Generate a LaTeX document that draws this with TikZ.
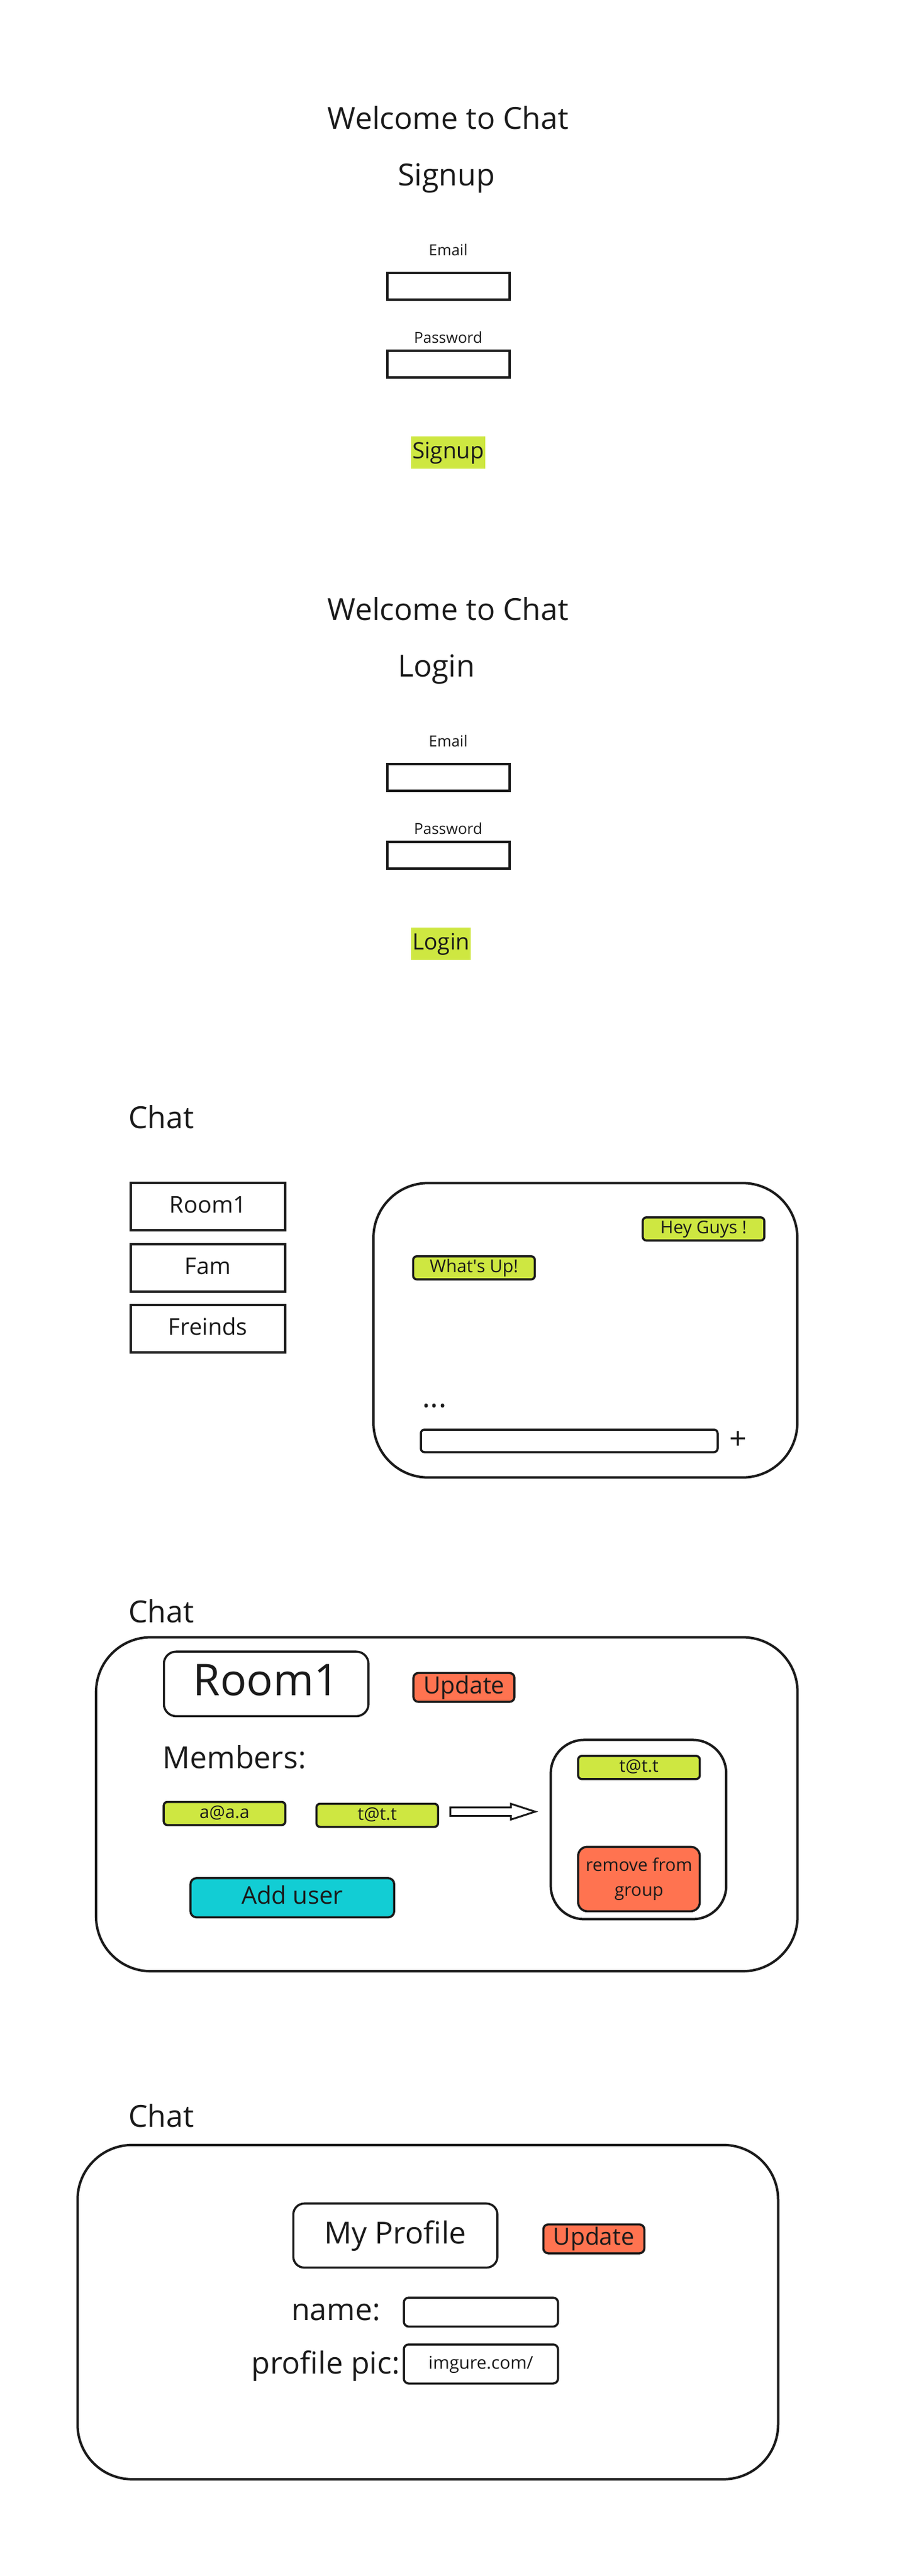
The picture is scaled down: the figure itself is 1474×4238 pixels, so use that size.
\documentclass[tikz,border=0pt]{standalone}
\usepackage{fontspec}
\setmainfont{Open Sans}
\usepackage{xcolor}
\usepackage{tikz}
\usetikzlibrary{calc}
\definecolor{ink}{HTML}{1A1A1A}
\definecolor{lime}{HTML}{CEE741}
\definecolor{coral}{HTML}{FF7350}
\definecolor{aqua}{HTML}{12CDD4}
\tikzset{
  heading/.style={text=ink, inner sep=0pt, font=\fontsize{25}{30}\selectfont},
  fieldlab/.style={text=ink, inner sep=0pt, font=\fontsize{12.5}{15}\selectfont},
  inputbox/.style={draw=ink, line width=2pt, minimum width=100.7pt, minimum height=21.85pt, inner sep=0pt},
  submit/.style={fill=lime, text=ink, inner xsep=1pt, inner ysep=0pt, minimum height=26.1pt, font=\fontsize{18.5}{22}\selectfont, text height=14.2pt, text depth=4.3pt},
  tab/.style={draw=ink, line width=2pt, minimum width=127.35pt, minimum height=39pt, inner sep=0pt, text=ink, font=\fontsize{19}{23}\selectfont, text height=14.6pt, text depth=4.4pt},
  window/.style={draw=ink, line width=2pt, rounded corners=45pt, inner sep=0pt},
  bubble/.style={draw=ink, fill=lime, line width=1.75pt, rounded corners=3pt, minimum width=100pt, minimum height=19pt, inner sep=0pt, text=ink, font=\fontsize{14.5}{17}\selectfont, text height=11.2pt, text depth=3.3pt},
  msgbar/.style={draw=ink, line width=1.75pt, rounded corners=3pt, minimum width=244pt, minimum height=18.5pt, inner sep=0pt},
  plain/.style={text=ink, inner sep=0pt},
  titlebox/.style={draw=ink, line width=1.75pt, inner sep=0pt, text=ink},
  updatebtn/.style={draw=ink, fill=coral, line width=1.75pt, rounded corners=4pt, minimum width=83pt, minimum height=23.7pt, inner sep=0pt, text=ink, font=\fontsize{19.5}{23}\selectfont, text height=15pt, text depth=4.5pt},
  addbtn/.style={draw=ink, fill=aqua, line width=1.75pt, rounded corners=5pt, minimum width=167.5pt, minimum height=32.25pt, inner sep=0pt, text=ink, font=\fontsize{20}{24}\selectfont, text height=15.4pt, text depth=4.6pt},
  removebtn/.style={draw=ink, fill=coral, line width=1.75pt, rounded corners=7.5pt, minimum width=100pt, minimum height=53pt, inner sep=0pt, align=center, text=ink, font=\fontsize{14.5}{20.5}\selectfont},
  fieldbox/.style={draw=ink, line width=1.75pt, rounded corners=4pt, minimum width=126.75pt, inner sep=0pt, text=ink},
  hollowarrow/.style={draw=ink, line width=1.5pt, fill=white, line join=miter},
}

\begin{document}
\begin{tikzpicture}[x=0.5pt, y=-0.5pt]
\useasboundingbox (0,0) rectangle (1474,4238);

% signup form
\node[heading, anchor=base] (welcome1) at (737,212.5) {Welcome to Chat};
\node[heading, anchor=base west] (signuphead) at (654,305.4) {Signup};
\node[fieldlab, anchor=base] (emaillab1) at (737,420.5) {Email};
\node[inputbox] (email1) at (737.5,471.2) {};
\node[fieldlab, anchor=base] (pwlab1) at (737,564.3) {Password};
\node[inputbox] (pw1) at (737.5,599.3) {};
\node[submit, anchor=west] (signupbtn) at (675.9,744.4) {Signup};

% login form
\begin{scope}[yshift=-404pt]
\node[heading, anchor=base] (welcome2) at (737,212.5) {Welcome to Chat};
\node[heading, anchor=base west] (loginhead) at (654,305.4) {Login};
\node[fieldlab, anchor=base] (emaillab2) at (737,420.5) {Email};
\node[inputbox] (email2) at (737.5,471.2) {};
\node[fieldlab, anchor=base] (pwlab2) at (737,564.3) {Password};
\node[inputbox] (pw2) at (737.5,599.3) {};
\node[submit, anchor=west] (loginbtn) at (675.9,744.4) {Login};
\end{scope}

% rooms and messages
\node[heading, anchor=base west] (chat3) at (211,1856.8) {Chat};
\node[tab] (room1) at (342,1985.4) {Room1};
\node[tab] (fam) at (342,2085.8) {Fam};
\node[tab] (friends) at (342,2186) {Freinds};
\node[window, minimum width=348.5pt, minimum height=242.2pt] (chatwin) at (962.6,2188.5) {};
\node[bubble] (heyguys) at (1156.9,2021.8) {Hey Guys !};
\node[bubble] (whatsup) at (779.4,2085.8) {What\textquotesingle s Up!};
\node[heading, anchor=base west] (typing) at (694,2315.5) {...};
\node[msgbar] (msgbar) at (936,2370.5) {};
\node[heading] (sendplus) at (1213.3,2369.5) {+};

% room settings
\node[heading, anchor=base west] (chat4) at (211,2669.2) {Chat};
\node[window, minimum width=576.75pt, minimum height=274.75pt] (roompanel) at (734.7,2968.3) {};
\node[titlebox, rounded corners=10pt, minimum width=168.2pt, minimum height=53.1pt, font=\fontsize{36}{43}\selectfont, text height=27.7pt, text depth=8.3pt] (roomtitle) at (437.7,2770.3) {Room1};
\node[updatebtn] (roomupdate) at (762.9,2776.1) {Update};
\node[heading, anchor=base west] (members) at (267,2909) {Members:};
\node[bubble] (member1) at (369.2,2983.5) {a@a.a};
\node[bubble] (member2) at (620.3,2986.5) {t@t.t};
\draw[hollowarrow] (740.5,2973.5) -- (840,2973.5) -- (840,2967.5) -- (880,2980.5)
  -- (840,2993.5) -- (840,2987.5) -- (740.5,2987.5) -- cycle;
\node[window, rounded corners=27.5pt, minimum width=144.3pt, minimum height=147.5pt] (memberbox) at (1049.9,3009.9) {};
\node[bubble] (picked) at (1050.7,2907.8) {t@t.t};
\node[removebtn] (removebtn) at (1050.7,3091.3) {remove from\\group};
\node[addbtn] (adduser) at (480.7,3122.1) {Add user};

% profile
\node[heading, anchor=base west] (chat5) at (211,3499) {Chat};
\node[window, minimum width=576pt, minimum height=275pt] (profilepanel) at (703.5,3803.8) {};
\node[titlebox, rounded corners=9pt, minimum width=167.8pt, minimum height=52.7pt, font=\fontsize{25}{30}\selectfont, text height=19.3pt, text depth=5.8pt] (profiletitle) at (650.1,3677.9) {My Profile};
\node[updatebtn] (profileupdate) at (976.5,3683.3) {Update};
\node[heading, anchor=base east] (namelab) at (626,3817) {name:};
\node[fieldbox, minimum height=23.75pt] (namefield) at (790.8,3803.8) {};
\node[heading, anchor=base east] (piclab) at (658,3905.4) {profile pic:};
\node[fieldbox, minimum height=32.1pt, font=\fontsize{14.5}{17}\selectfont, text height=11.2pt, text depth=3.3pt] (picfield) at (790.8,3889.1) {imgure.com/};
\end{tikzpicture}
\end{document}
